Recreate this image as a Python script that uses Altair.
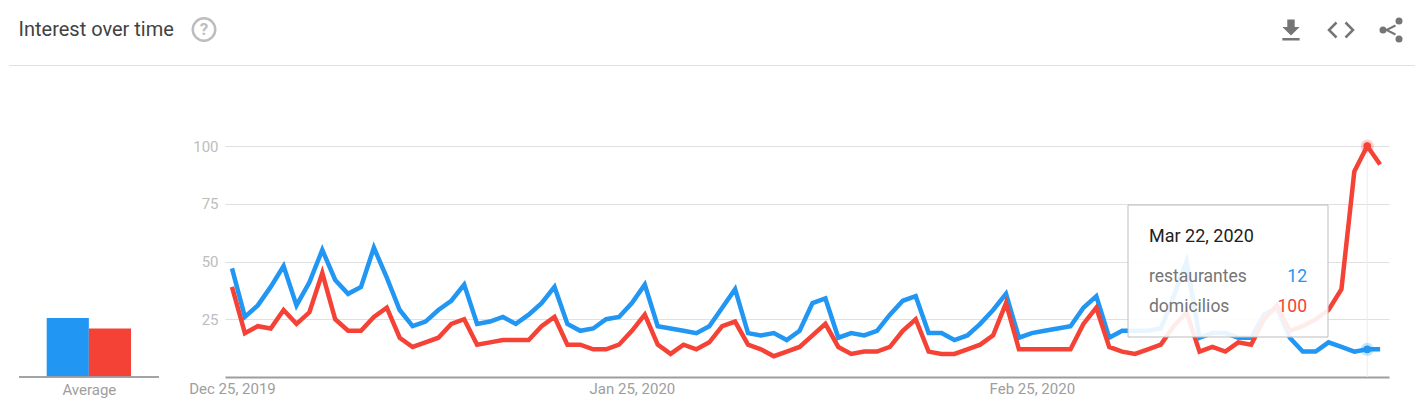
import altair as alt
import pandas as pd

series = ["restaurantes", "domicilios"]
colors = ["#2196f3", "#f44336"]
averages = [25.5, 21]
restaurantes = [
    47, 26, 31, 39, 48, 31, 41, 55, 42, 36,
    39, 56, 43, 29, 22, 24, 29, 33, 40, 23,
    24, 26, 23, 27, 32, 39, 23, 20, 21, 25,
    26, 32, 40, 22, 21, 20, 19, 22, 30, 38,
    19, 18, 19, 16, 20, 32, 34, 17, 19, 18,
    20, 27, 33, 35, 19, 19, 16, 18, 23, 29,
    36, 17, 19, 20, 21, 22, 30, 35, 17, 20,
    20, 20, 21, 35, 50, 17, 19, 19, 17, 17,
    27, 30, 17, 11, 11, 15, 13, 11, 12, 12,
]
domicilios = [
    39, 19, 22, 21, 29, 23, 28, 45, 25, 20,
    20, 26, 30, 17, 13, 15, 17, 23, 25, 14,
    15, 16, 16, 16, 22, 26, 14, 14, 12, 12,
    14, 20, 27, 14, 10, 14, 12, 15, 22, 24,
    14, 12, 9, 11, 13, 18, 23, 13, 10, 11,
    11, 13, 20, 25, 11, 10, 10, 12, 14, 18,
    32, 12, 12, 12, 12, 12, 23, 30, 13, 11,
    10, 12, 14, 22, 28, 11, 13, 11, 15, 14,
    25, 31, 20, 22, 25, 29, 38, 89, 100, 92,
]
dates = pd.date_range("2019-12-25", periods=len(restaurantes), freq="D")
hover_date = pd.Timestamp("2020-03-22")

FONT = "Roboto"
GRID = "#e0e0e0"
AXIS = "#9e9e9e"

long_data = pd.concat([
    pd.DataFrame({"date": dates, "name": series[0], "value": restaurantes}),
    pd.DataFrame({"date": dates, "name": series[1], "value": domicilios}),
])
hover_data = long_data[long_data["date"] == hover_date]
avg_data = pd.DataFrame({"name": series, "avg": averages})

color_scale = alt.Scale(domain=series, range=colors)
x_enc = alt.X(
    "date:T",
    title=None,
    scale=alt.Scale(domain=[
        alt.DateTime(year=2019, month=12, date=24, hours=11),
        alt.DateTime(year=2020, month=3, date=23, hours=16, minutes=30),
    ]),
    axis=alt.Axis(
        values=[
            alt.DateTime(year=2019, month=12, date=25),
            alt.DateTime(year=2020, month=1, date=25),
            alt.DateTime(year=2020, month=2, date=25),
        ],
        format="%b %d, %Y",
        grid=False,
        ticks=False,
        labelFontSize=15,
        labelColor=AXIS,
        labelPadding=4,
        labelFlush=False,
        domainColor=AXIS,
        domainWidth=2,
    ),
)
y_enc = alt.Y(
    "value:Q",
    title=None,
    scale=alt.Scale(domain=[0, 100]),
    axis=alt.Axis(
        values=[25, 50, 75, 100],
        ticks=False,
        domain=False,
        gridColor=GRID,
        gridWidth=1,
        labelFontSize=15,
        labelColor="#bdbdbd",
        labelPadding=7,
    ),
)


def pixel_text(text, x, y, size, color, align="left", weight=400):
    return alt.Chart(pd.DataFrame({"t": [text]})).mark_text(
        font=FONT, fontSize=size, color=color, align=align, baseline="middle", fontWeight=weight
    ).encode(text="t:N", x=alt.value(x), y=alt.value(y))


def icon(shape, x, y, size, filled=True, stroke_width=0):
    return alt.Chart(pd.DataFrame({"i": [0]})).mark_point(
        shape=shape, size=size, filled=filled, color="#757575", opacity=1, strokeWidth=stroke_width
    ).encode(x=alt.value(x), y=alt.value(y))


# header strip
header_rule = alt.Chart(pd.DataFrame({"i": [0]})).mark_rule(color=GRID, strokeWidth=1).encode(
    x=alt.value(1), x2=alt.value(1407), y=alt.value(57.5)
)
help_ring = alt.Chart(pd.DataFrame({"i": [0]})).mark_point(
    shape="circle", size=506, color="#bdbdbd", opacity=1, strokeWidth=2.5
).encode(x=alt.value(196), y=alt.value(21.5))

download_path = "M.583 -.25L.25 -.25L.25 -.75L-.25 -.75L-.25 -.25L-.583 -.25L0 .333ZM-.583 .5L-.583 .667L.583 .667L.583 .5Z"
code_path = "M-.3 -.5L-.8 0L-.3 .5M.3 -.5L.8 0L.3 .5"
share_path = "M.6 -.6L-.6 0L.6 .6"

header = alt.layer(
    header_rule,
    pixel_text("Interest over time", 10.5, 22, 20, "#424242"),
    help_ring,
    pixel_text("?", 196, 22, 17, "#bdbdbd", align="center", weight=700),
    icon(download_path, 1283, 22.6, 876),
    icon(code_path, 1333, 22, 900, filled=False, stroke_width=2.5),
    icon(share_path, 1383, 22, 225, filled=False, stroke_width=2),
    icon("circle", 1375, 22, 49),
    icon("circle", 1391, 13, 49),
    icon("circle", 1391, 31, 49),
).properties(width=1407, height=58)

# average bars
bars = alt.Chart(avg_data).mark_bar().encode(
    x=alt.X(
        "name:N",
        sort=series,
        scale=alt.Scale(domain=series, range=[38.7, 123], paddingInner=0, paddingOuter=0),
        axis=alt.Axis(
            labels=False, ticks=False, domain=False, title="Average",
            titleFont=FONT, titleFontSize=15, titleFontWeight=400, titleColor=AXIS, titlePadding=5,
        ),
    ),
    y=alt.Y("avg:Q", scale=alt.Scale(domain=[0, 100]), axis=None),
    color=alt.Color("name:N", scale=color_scale, legend=None),
)
bar_base = alt.Chart(avg_data).mark_rule(color=AXIS, strokeWidth=1.5).encode(
    x=alt.value(11), x2=alt.value(151), y=alt.value(231)
)
bar_panel = alt.layer(bars, bar_base).properties(width=151, height=231)

# main lines
lines = alt.Chart(long_data).mark_line(strokeWidth=4.5).encode(
    x=x_enc,
    y=y_enc,
    color=alt.Color("name:N", scale=color_scale, legend=None),
    detail="name:N",
)
hover_rule = alt.Chart(pd.DataFrame({"date": [hover_date]})).mark_rule(color="#eeeeee", strokeWidth=1).encode(
    x=alt.X("date:T")
)
halo = alt.Chart(hover_data).mark_circle(size=170, opacity=0.25).encode(
    x="date:T", y="value:Q", color=alt.Color("name:N", scale=color_scale, legend=None)
)
dot = alt.Chart(hover_data).mark_circle(size=60, opacity=1).encode(
    x="date:T", y="value:Q", color=alt.Color("name:N", scale=color_scale, legend=None)
)

tip_box = alt.Chart(pd.DataFrame({"i": [0]})).mark_rect(
    fill="white", fillOpacity=0.9, stroke="#bdbdbd", strokeWidth=1
).encode(x=alt.value(903), x2=alt.value(1103), y=alt.value(59), y2=alt.value(191))

line_panel = alt.layer(
    hover_rule,
    lines,
    halo,
    dot,
    tip_box,
    pixel_text("Mar 22, 2020", 924, 91, 18, "#212121"),
    pixel_text(series[0], 924, 131, 17.5, "#757575"),
    pixel_text(str(restaurantes[88]), 1082, 131, 17.5, colors[0], align="right"),
    pixel_text(series[1], 924, 161, 17.5, "#757575"),
    pixel_text(str(domicilios[88]), 1082, 161, 17.5, colors[1], align="right"),
).properties(width=1164, height=231)

row = alt.hconcat(bar_panel, line_panel, spacing=66, bounds="flush")
chart = alt.vconcat(header, row, spacing=80, bounds="flush").properties(
    padding={"left": 0, "top": 0, "right": 0, "bottom": 12}, background="white"
).configure_view(stroke=None).configure_axis(
    labelFont=FONT, titleFont=FONT
)

chart.save("out.html", embed_options={"renderer": "svg", "actions": False})
